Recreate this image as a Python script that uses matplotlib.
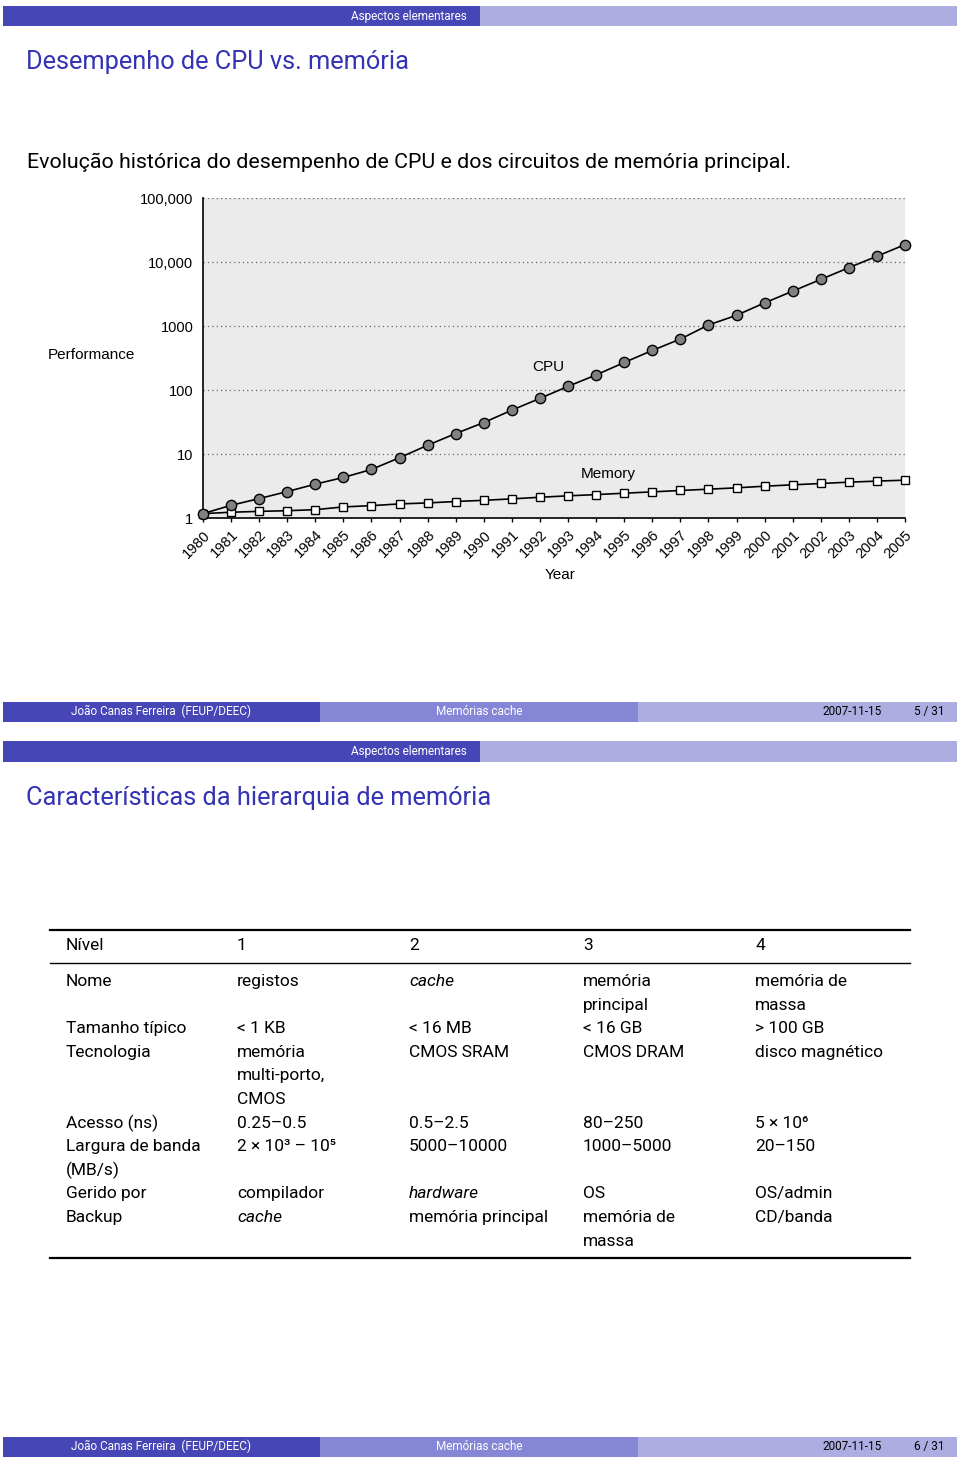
import numpy as np
import matplotlib
matplotlib.use("Agg")
import matplotlib.pyplot as plt
from matplotlib.patches import Rectangle

# chart data
years = list(range(1980, 2006))
cpu = [1.17, 1.58, 2.01, 2.59, 3.38, 4.30, 5.74, 8.76, 13.7, 20.9, 31, 48.5, 74,
       114, 172, 269, 415, 625, 1037, 1470, 2300, 3500, 5350, 8150, 12300, 18700]
memory = [1.17, 1.23, 1.27, 1.30, 1.35, 1.49, 1.56, 1.66, 1.72, 1.81, 1.89, 1.99, 2.11,
          2.22, 2.32, 2.44, 2.56, 2.69, 2.82, 2.96, 3.14, 3.30, 3.46, 3.63, 3.77, 3.90]
y_ticks = [1, 10, 100, 1000, 10000, 100000]
y_tick_labels = ["1", "10", "100", "1000", "10,000", "100,000"]

# table data
table_header = ["Nível", "1", "2", "3", "4"]
table_rows = [
    ["Nome", "registos", "cache", "memória\nprincipal", "memória de\nmassa"],
    ["Tamanho típico", "< 1 KB", "< 16 MB", "< 16 GB", "> 100 GB"],
    ["Tecnologia", "memória\nmulti-porto,\nCMOS", "CMOS SRAM", "CMOS DRAM", "disco magnético"],
    ["Acesso (ns)", "0.25–0.5", "0.5–2.5", "80–250", "5 × 10⁶"],
    ["Largura de banda\n(MB/s)", "2 × 10³ – 10⁵", "5000–10000", "1000–5000", "20–150"],
    ["Gerido por", "compilador", "hardware", "OS", "OS/admin"],
    ["Backup", "cache", "memória principal", "memória de\nmassa", "CD/banda"],
]
italic_cells = [(0, 2), (5, 2), (6, 1)]

W, H = 960, 1458
DARK = "#4646B6"
MID = "#8686D6"
LIGHT = "#ADADE1"
TITLE = "#3333B3"
SLIDE_FONT = ["Roboto", "DejaVu Sans"]
CHART_FONT = ["Liberation Sans", "DejaVu Sans"]

fig = plt.figure(figsize=(W / 100, H / 100), dpi=100)
bg = fig.add_axes([0, 0, 1, 1])
bg.set_xlim(0, W)
bg.set_ylim(H, 0)
bg.axis("off")


def head_bar(y0):
    bg.add_patch(Rectangle((3, y0), 477, 20.5, color=DARK, lw=0))
    bg.add_patch(Rectangle((480, y0), 477, 20.5, color=LIGHT, lw=0))
    bg.text(467, y0 + 10.5, "Aspectos elementares", color="white", fontsize=8.5,
            ha="right", va="center", family=SLIDE_FONT)


def foot_bar(y0, page):
    bg.add_patch(Rectangle((3, y0), 317, 20, color=DARK, lw=0))
    bg.add_patch(Rectangle((320, y0), 318, 20, color=MID, lw=0))
    bg.add_patch(Rectangle((638, y0), 319, 20, color=LIGHT, lw=0))
    yc = y0 + 10
    bg.text(161, yc, "João Canas Ferreira  (FEUP/DEEC)", color="white", fontsize=8.5,
            ha="center", va="center", family=SLIDE_FONT)
    bg.text(479, yc, "Memórias cache", color="white", fontsize=8.5,
            ha="center", va="center", family=SLIDE_FONT)
    bg.text(882, yc, "2007-11-15", color="black", fontsize=8.5,
            ha="right", va="center", family=SLIDE_FONT)
    bg.text(944, yc, "%d / 31" % page, color="black", fontsize=8.5,
            ha="right", va="center", family=SLIDE_FONT)


# slide 5
head_bar(5.5)
bg.text(26, 62, "Desempenho de CPU vs. memória", color=TITLE, fontsize=18.3,
        ha="left", va="center", family=SLIDE_FONT)
bg.text(27, 162, "Evolução histórica do desempenho de CPU e dos circuitos de memória principal.",
        color="black", fontsize=15.4, ha="left", va="center", family=SLIDE_FONT)
foot_bar(701.5, 5)

# slide 6
head_bar(741)
bg.text(26, 798, "Características da hierarquia de memória", color=TITLE, fontsize=18.3,
        ha="left", va="center", family=SLIDE_FONT)
foot_bar(1436.5, 6)

# table
col_x = [66, 237, 409, 583, 755]
line_h = 23.6
bg.plot([50, 910], [930, 930], color="black", lw=1.6)
bg.plot([50, 910], [963, 963], color="black", lw=1.0)
bg.plot([50, 910], [1258, 1258], color="black", lw=1.6)
for j, txt in enumerate(table_header):
    bg.text(col_x[j], 945.5, txt, fontsize=12.5, ha="left", va="center", family=SLIDE_FONT)
y = 981.5
for i, row in enumerate(table_rows):
    n_lines = max(c.count("\n") + 1 for c in row)
    for j, txt in enumerate(row):
        style = "italic" if (i, j) in italic_cells else "normal"
        for k, part in enumerate(txt.split("\n")):
            bg.text(col_x[j], y + k * line_h, part, fontsize=12.5, ha="left", va="center",
                    family=SLIDE_FONT, style=style)
    y += n_lines * line_h

# chart
ax = fig.add_axes([203 / W, 1 - 518 / H, 702 / W, 320 / H])
ax.set_facecolor("#EBEBEB")
ax.set_yscale("log")
ax.set_xlim(1980, 2005)
ax.set_ylim(1, 100000)
for t in y_ticks[1:]:
    ax.axhline(t, color="#666666", lw=0.9, ls=(0, (1, 2.5)), zorder=1)
ax.plot(years, memory, color="black", lw=1.2, marker="s", ms=5.8, mfc="white",
        mec="black", mew=1.0, clip_on=False, zorder=3)
ax.plot(years, cpu, color="black", lw=1.2, marker="o", ms=7.4, mfc="#808080",
        mec="black", mew=1.0, clip_on=False, zorder=4)
ax.spines["top"].set_visible(False)
ax.spines["right"].set_visible(False)
ax.spines["left"].set_linewidth(1.2)
ax.spines["bottom"].set_linewidth(1.2)
ax.set_yticks(y_ticks)
ax.set_yticklabels(y_tick_labels)
ax.yaxis.set_minor_locator(matplotlib.ticker.NullLocator())
ax.tick_params(axis="y", length=0, pad=7, labelsize=10.5)
ax.set_xticks(years)
ax.set_xticklabels([str(yr) for yr in years], rotation=45, ha="right",
                   rotation_mode="anchor")
ax.tick_params(axis="x", length=3, width=1, pad=4, labelsize=10.5)
for lab in ax.get_xticklabels() + ax.get_yticklabels():
    lab.set_family(CHART_FONT)

# series labels sit inside the plot area, so they belong to the chart axes
ax.text(548, 367, "CPU", fontsize=11, ha="center", va="center", family=CHART_FONT,
        transform=bg.transData, zorder=5)
ax.text(608, 474, "Memory", fontsize=11, ha="center", va="center", family=CHART_FONT,
        transform=bg.transData, zorder=5)
bg.text(560, 575, "Year", fontsize=11, ha="center", va="center", family=CHART_FONT)
bg.text(91, 355, "Performance", fontsize=11, ha="center", va="center", family=CHART_FONT)

fig.savefig("out.png", dpi=100)
